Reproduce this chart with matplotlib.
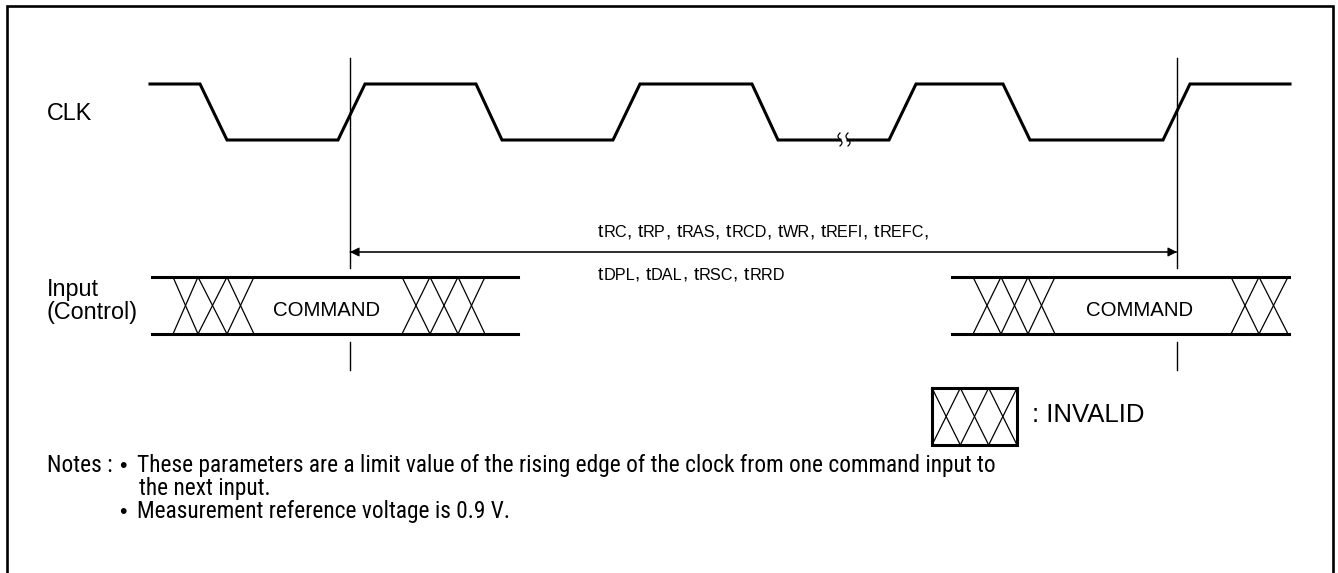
import matplotlib
matplotlib.use('agg')
import numpy as np
import matplotlib.pyplot as plt
from matplotlib import font_manager as fm

plt.rcParams['font.family'] = ['Liberation Sans', 'DejaVu Sans']

W, H = 1338, 573

# clock waveform: edge positions (px along time) and logic levels, split by the break
clk_a_t = [150, 200, 227, 338, 365, 476, 502, 613, 640, 752, 778, 840]
clk_a_v = [1, 1, 0, 0, 1, 1, 0, 0, 1, 1, 0, 0]
clk_b_t = [848, 889, 916, 1003, 1030, 1163, 1190, 1290]
clk_b_v = [0, 0, 1, 1, 0, 0, 1, 1]
clk_break = [840, 848]

# reference edges (vertical markers) and command buses
ref_edges = [350, 1177]
buses = [(152, 518), (952, 1289)]
invalid_groups = [[173, 198, 227, 254], [402, 430, 458, 485],
                  [973, 1001, 1028, 1055], [1231, 1259, 1288]]
command_x = [327, 1140]

line1 = [('t', 14), ('RC', 11.7), (', ', 14), ('t', 14), ('RP', 11.7), (', ', 14),
         ('t', 14), ('RAS', 11.7), (', ', 14), ('t', 14), ('RCD', 11.7), (', ', 14),
         ('t', 14), ('WR', 11.7), (', ', 14), ('t', 14), ('REFI', 11.7), (', ', 14),
         ('t', 14), ('REFC', 11.7), (',', 14)]
line2 = [('t', 14), ('DPL', 11.7), (', ', 14), ('t', 14), ('DAL', 11.7), (', ', 14),
         ('t', 14), ('RSC', 11.7), (', ', 14), ('t', 14), ('RRD', 11.7)]

head = 'Notes : '
bullet = '\u2022 '
notes = ['These parameters are a limit value of the rising edge of the clock from one command input to',
         'the next input.',
         'Measurement reference voltage is 0.9 V.']

# pick a narrow face for the notes if one is installed
names = {f.name for f in fm.fontManager.ttflist}
narrow = None
for cand in ['Liberation Sans Narrow', 'Arial Narrow', 'Roboto Condensed',
             'Open Sans Condensed', 'DejaVu Sans Condensed']:
    if cand in names:
        narrow = cand
        break
if narrow is None:
    for f in fm.fontManager.ttflist:
        if f.name == 'DejaVu Sans' and 'condensed' in str(f.stretch).lower():
            narrow = 'DejaVu Sans'
            break
note_kw = dict(family=[narrow or 'Liberation Sans', 'DejaVu Sans'])
if narrow == 'DejaVu Sans':
    note_kw['stretch'] = 'condensed'

fig = plt.figure(figsize=(W / 100, H / 100), dpi=100)
ax = fig.add_axes([0, 0, 1, 1])
ax.set_xlim(0, W)
ax.set_ylim(H, 0)
ax.axis('off')

# outer frame
ax.plot([7, 7, 1333, 1333], [H + 10, 6, 6, H + 10], color='black', lw=1.9,
        solid_joinstyle='miter', clip_on=False)

# clock in its own axes: level 0 -> y=140, level 1 -> y=84
clk_ax = fig.add_axes([0, 1 - 140 / H, 1, 56 / H])
clk_ax.set_xlim(0, W)
clk_ax.set_ylim(0, 1)
clk_ax.axis('off')
clk_ax.plot(clk_a_t, clk_a_v, color='black', lw=2.2, clip_on=False, solid_joinstyle='miter')
clk_ax.plot(clk_b_t, clk_b_v, color='black', lw=2.2, clip_on=False, solid_joinstyle='miter')

# break marks on the low level
s = np.linspace(0, 1, 40)
for xb in clk_break:
    ax.plot(xb - 2.0 * np.sin(2 * np.pi * s), 133 + 13 * s, color='black', lw=0.9)

ax.text(47, 120, 'CLK', fontsize=16.8, va='baseline', ha='left')

# vertical reference lines
for xr in ref_edges:
    ax.plot([xr, xr], [58, 268], color='black', lw=1.0)
    ax.plot([xr, xr], [342, 370], color='black', lw=1.0)

# timing arrow
for a, b in [(0, 1), (1, 0)]:
    ax.annotate('', xy=(ref_edges[a], 252), xytext=(ref_edges[b], 252),
                arrowprops=dict(arrowstyle='-|>', lw=0.8, color='black', mutation_scale=14,
                                shrinkA=0, shrinkB=0))

renderer = fig.canvas.get_renderer()


def width(txt, size, **kw):
    t = ax.text(0, 0, txt, fontsize=size, **kw)
    w = t.get_window_extent(renderer).width
    t.remove()
    return w


def put_parts(x, y, parts):
    for txt, size in parts:
        t = ax.text(x, y, txt, fontsize=size, va='baseline', ha='left')
        x += t.get_window_extent(renderer).width


put_parts(598, 237, line1)
put_parts(598, 280, line2)

# input buses
bus_top, bus_bot = 277, 334
for x0, x1 in buses:
    ax.plot([x0, x1], [bus_top, bus_top], color='black', lw=2.2)
    ax.plot([x0, x1], [bus_bot, bus_bot], color='black', lw=2.2)
for g in invalid_groups:
    for a, b in zip(g[:-1], g[1:]):
        ax.plot([a, b], [bus_top, bus_bot], color='black', lw=0.9)
        ax.plot([b, a], [bus_top, bus_bot], color='black', lw=0.9)
for xc in command_x:
    ax.text(xc, 316, 'COMMAND', fontsize=14.7, va='baseline', ha='center')

ax.text(47, 296, 'Input', fontsize=16.8, va='baseline', ha='left')
ax.text(47, 319, '(Control)', fontsize=16.8, va='baseline', ha='left')

# legend for invalid
lx0, lx1, ly0, ly1 = 932, 1017, 388, 445
xs = np.linspace(lx0, lx1, 4)
for a, b in zip(xs[:-1], xs[1:]):
    ax.plot([a, b], [ly0, ly1], color='black', lw=0.9)
    ax.plot([b, a], [ly0, ly1], color='black', lw=0.9)
ax.plot([lx0, lx1, lx1, lx0, lx0], [ly0, ly0, ly1, ly1, ly0], color='black', lw=2.2,
        solid_joinstyle='miter')
ax.text(1032, 422, ': INVALID', fontsize=18.5, va='baseline', ha='left')

# notes: size fitted so the first line runs from x=47 to x=997 as in the reference
x_note, x_end = 47, 997
full = width(head + bullet + ' ' + notes[0], 15, **note_kw)
nsize = 15 * (x_end - x_note) / full
x_bul = x_note + width(head + '.', nsize, **note_kw) - width('.', nsize, **note_kw)
x_body = x_note + width(head + bullet + ' T', nsize, **note_kw) - width('T', nsize, **note_kw)
ax.text(x_note, 472, head.strip(), fontsize=nsize, va='baseline', ha='left', **note_kw)
ax.text(x_body, 472, notes[0], fontsize=nsize, va='baseline', ha='left', **note_kw)
ax.text(x_body + 2, 495, notes[1], fontsize=nsize, va='baseline', ha='left', **note_kw)
ax.text(x_body, 518, notes[2], fontsize=nsize, va='baseline', ha='left', **note_kw)
for yb in [472, 518]:
    ax.text(x_bul + 1, yb, bullet.strip(), fontsize=nsize * 0.9, va='baseline', ha='left',
            family=['Liberation Sans', 'DejaVu Sans'])

fig.savefig('out.png', dpi=100)
